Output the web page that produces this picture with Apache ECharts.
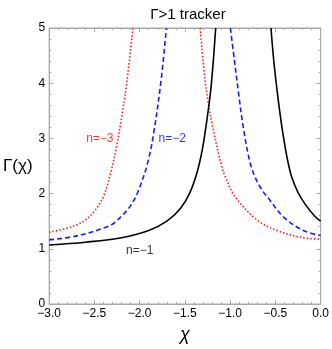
<!DOCTYPE html>
<html>
<head>
<meta charset="utf-8">
<script src="https://cdn.jsdelivr.net/npm/echarts@6/dist/echarts.min.js"></script>
<style>
  html, body { margin: 0; padding: 0; background: #fff; }
  #main { width: 332px; height: 349px; }
</style>
</head>
<body>
<div id="main"></div>
<script>
// values, one branch per array pair
var chiBlackL = [-3.0, -2.6, -2.2, -1.9, -1.7, -1.55, -1.45, -1.37, -1.31, -1.26, -1.21, -1.16];
var gamBlackL = [1.07, 1.12, 1.20, 1.33, 1.50, 1.73, 2.0, 2.36, 2.78, 3.3, 3.95, 5.0];
var chiBlackR = [-0.549, -0.519, -0.481, -0.433, -0.39, -0.357, -0.32, -0.25, -0.172, -0.065, 0];
var gamBlackR = [5.0, 4.42, 3.86, 3.26, 2.82, 2.54, 2.30, 2.02, 1.81, 1.59, 1.50];

var chiBlueL = [-3.0, -2.68, -2.33, -2.22, -2.11, -2.02, -1.913, -1.84, -1.76, -1.705];
var gamBlueL = [1.16, 1.24, 1.42, 1.56, 1.76, 2.03, 2.55, 3.15, 4.1, 5.0];
var chiBlueR = [-0.998, -0.952, -0.909, -0.855, -0.783, -0.72, -0.65, -0.585, -0.406, -0.19, 0];
var gamBlueR = [5.0, 4.40, 3.84, 3.2, 2.58, 2.28, 2.07, 1.93, 1.57, 1.33, 1.24];

var chiRedL = [-3.0, -2.75, -2.6, -2.5, -2.4, -2.32, -2.26, -2.2, -2.14, -2.074];
var gamRedL = [1.30, 1.40, 1.52, 1.68, 1.95, 2.38, 2.82, 3.38, 4.05, 5.0];
var chiRedR = [-1.331, -1.285, -1.24, -1.20, -1.095, -1.052, -0.944, -0.693, -0.478, -0.226, 0];
var gamRedR = [5.0, 4.16, 3.62, 3.26, 2.5, 2.30, 1.94, 1.51, 1.33, 1.21, 1.17];

var labelText = ['n=\u22123', 'n=\u22122', 'n=\u22121'];
var labelChi = [-2.44, -1.64, -2.0];
var labelGam = [2.99, 2.99, 0.97];
var labelColor = ['#ff0000', '#0000ff', '#000000'];

function pairs(xs, ys) {
  return xs.map(function (x, i) { return [x, ys[i]]; });
}
function fmtX(v) { return v.toFixed(1).replace('-', '\u2212'); }

var FONT = 'Liberation Sans';
var frameColor = '#a8a8a8';

function branch(xs, ys, color, type, width) {
  return {
    type: 'line',
    data: pairs(xs, ys),
    smooth: 0.35,
    showSymbol: false,
    silent: true,
    lineStyle: { color: color, width: width, type: type }
  };
}

var myChart = echarts.init(document.getElementById('main'));

var baseAxis = {
  axisLine: { show: true, onZero: false, lineStyle: { color: frameColor, width: 1 } },
  axisTick: { show: true, inside: true, length: 4, lineStyle: { color: frameColor } },
  minorTick: { show: true, splitNumber: 5, length: 2, lineStyle: { color: frameColor } },
  splitLine: { show: false }
};

var option = {
  animation: false,
  title: {
    text: '\u0393>1 tracker',
    left: 183,
    textAlign: 'center',
    top: 2,
    textStyle: { fontFamily: FONT, fontSize: 15, fontWeight: 'normal', color: '#000' }
  },
  grid: { left: 44, right: 10, top: 28, bottom: 43, show: true, borderColor: frameColor, borderWidth: 1 },
  xAxis: [
    Object.assign({}, baseAxis, {
      type: 'value', min: -3, max: 0, interval: 0.5, position: 'bottom',
      name: '\u03c7', nameLocation: 'middle', nameGap: 22,
      nameTextStyle: { fontFamily: FONT, fontSize: 18, fontStyle: 'italic', color: '#000' },
      axisLabel: { formatter: fmtX, fontFamily: FONT, fontSize: 12, color: '#000', margin: 4 }
    }),
    Object.assign({}, baseAxis, {
      type: 'value', min: -3, max: 0, interval: 0.5, position: 'top',
      axisLabel: { show: false }
    })
  ],
  yAxis: [
    Object.assign({}, baseAxis, {
      type: 'value', min: 0, max: 5, interval: 1, position: 'left',
      name: '\u0393(\u03c7)', nameLocation: 'middle', nameRotate: 0, nameGap: 16,
      nameTextStyle: { fontFamily: FONT, fontSize: 17, color: '#000' },
      axisLabel: { fontFamily: FONT, fontSize: 12, color: '#000', margin: 4 }
    }),
    Object.assign({}, baseAxis, {
      type: 'value', min: 0, max: 5, interval: 1, position: 'right',
      axisLabel: { show: false }
    })
  ],
  series: [
    branch(chiRedL, gamRedL, '#ff1a1a', [1.5, 2], 1.6),
    branch(chiRedR, gamRedR, '#ff1a1a', [1.5, 2], 1.6),
    branch(chiBlueL, gamBlueL, '#1a1aff', [5, 3], 1.6),
    branch(chiBlueR, gamBlueR, '#1a1aff', [5, 3], 1.6),
    branch(chiBlackL, gamBlackL, '#000000', 'solid', 1.6),
    branch(chiBlackR, gamBlackR, '#000000', 'solid', 1.6),
    {
      type: 'scatter',
      symbolSize: 0,
      silent: true,
      data: labelText.map(function (t, i) {
        return {
          value: [labelChi[i], labelGam[i]],
          label: {
            show: true, position: 'inside', formatter: t,
            fontFamily: FONT, fontSize: 12, color: labelColor[i]
          }
        };
      })
    }
  ]
};

myChart.setOption(option);
</script>
</body>
</html>
